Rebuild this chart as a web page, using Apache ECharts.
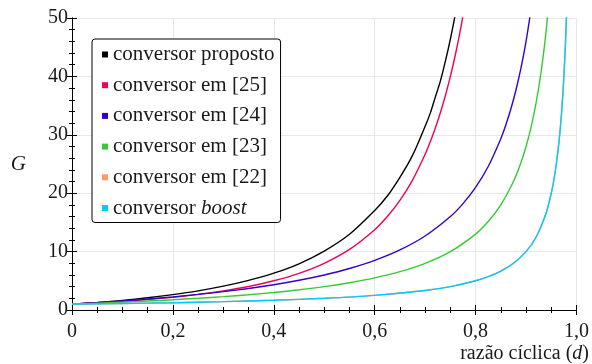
<!DOCTYPE html>
<html><head><meta charset="utf-8">
<script src="https://cdn.jsdelivr.net/npm/echarts@6/dist/echarts.min.js"></script>
<style>html,body{margin:0;padding:0;background:#fff}#c{width:592px;height:364px}</style>
</head><body><div id="c"></div>
<script>
const seriesNames = ['conversor proposto','conversor em [25]','conversor em [24]','conversor em [23]','conversor em [22]','conversor boost'];
const xTicks = [0, 0.2, 0.4, 0.6, 0.8, 1.0];
const yTicks = [0, 10, 20, 30, 40, 50];

const propostoD = [0,0.05,0.1,0.15,0.2,0.25,0.3,0.35,0.4,0.45,0.5,0.55,0.6,0.625,0.65,0.675,0.7,0.71,0.72,0.73,0.74,0.75,0.76,0.77];
const propostoG = [1,1.29,1.64,2.09,2.63,3.28,4.08,5.07,6.3,7.91,10.08,12.96,17.05,19.52,22.72,26.48,31.47,33.67,36.41,39.14,42.56,46.4,50.75,55.7];

const ref25D = [0,0.05,0.1,0.15,0.2,0.25,0.3,0.35,0.4,0.45,0.5,0.55,0.6,0.625,0.65,0.675,0.7,0.71,0.72,0.73,0.74,0.75,0.76,0.77,0.78];
const ref25G = [1,1.22,1.48,1.8,2.19,2.67,3.27,4.02,5,6.28,8,10.37,13.75,16,18.78,22.25,26.67,28.78,31.12,33.74,36.69,40,43.75,48,52.9];

const ref24D = [0,0.05,0.1,0.15,0.2,0.25,0.3,0.35,0.4,0.45,0.5,0.55,0.6,0.65,0.7,0.75,0.775,0.8,0.825,0.85,0.86,0.87,0.88,0.89,0.9,0.91];
const ref24G = [1,1.26,1.56,1.88,2.25,2.67,3.14,3.69,4.33,5.09,6,7.11,8.5,10.29,12.67,16,18.22,21,24.57,29.33,31.71,34.46,37.67,41.45,46,51.56];

const ref23D = [0,0.05,0.1,0.15,0.2,0.25,0.3,0.35,0.4,0.45,0.5,0.55,0.6,0.65,0.7,0.75,0.8,0.825,0.85,0.875,0.89,0.9,0.91,0.92,0.93,0.94,0.95];
const ref23G = [1,1.16,1.33,1.53,1.75,2,2.29,2.62,3,3.46,4,4.67,5.5,6.57,8,10,13,15.14,18,22,25.27,28,31.33,35.5,40.86,48,58];

const ref22D = [0,0.1,0.2,0.3,0.4,0.5,0.6,0.7,0.75,0.8,0.825,0.85,0.875,0.9,0.92,0.94,0.95,0.955,0.96,0.965,0.97,0.975,0.98,0.985];
const ref22G = [1,1.11,1.25,1.43,1.67,2,2.5,3.33,4,5,5.71,6.67,8,10,12.5,16.67,20,22.2,25,28.57,33.3,40,50,66.7];

const boostD = [0,0.1,0.2,0.3,0.4,0.5,0.6,0.7,0.75,0.8,0.825,0.85,0.875,0.9,0.92,0.94,0.95,0.955,0.96,0.965,0.97,0.975,0.98,0.985];
const boostG = [1,1.11,1.25,1.43,1.67,2,2.5,3.33,4,5,5.71,6.67,8,10,12.5,16.67,20,22.2,25,28.57,33.3,40,50,66.7];

const colors = ['#000000','#f0005a','#3300cc','#33cc33','#ff9966','#00ccff'];
const dataD = [propostoD, ref25D, ref24D, ref23D, ref22D, boostD];
const dataG = [propostoG, ref25G, ref24G, ref23G, ref22G, boostG];

const FONT = 'Liberation Serif';
const TXT = '#1a1a1a';

const chart = echarts.init(document.getElementById('c'), null, {renderer: 'canvas'});

const axisCommon = {
  type: 'value',
  axisLine: {show: true, lineStyle: {color: '#000', width: 1}},
  axisTick: {show: true, inside: true, length: 5, lineStyle: {color: '#000'}},
  minorTick: {show: true, length: 3, lineStyle: {color: '#000'}},
};

const option = {
  animation: false,
  backgroundColor: '#fff',
  textStyle: {fontFamily: FONT},
  grid: {left: 72, right: 14, top: 18, bottom: 54, containLabel: false},
  legend: {
    orient: 'vertical', left: 92, top: 39,
    backgroundColor: '#fff', borderColor: '#000', borderWidth: 1, borderRadius: 3,
    padding: [5, 6, 4, 10], itemGap: 9.7, itemWidth: 6, itemHeight: 6, itemStyle: {borderWidth: 0},
    icon: 'rect',
    data: seriesNames,
    textStyle: {fontFamily: FONT, fontSize: 21, color: TXT, lineHeight: 20,
      rich: {it: {fontFamily: FONT, fontSize: 21, fontStyle: 'italic', color: TXT, lineHeight: 20}}},
    formatter: n => n === 'conversor boost' ? 'conversor {it|boost}' : n
  },
  xAxis: [
    Object.assign({}, axisCommon, {
      min: 0, max: 1, interval: 0.2, position: 'bottom',
      minorTick: Object.assign({}, axisCommon.minorTick, {splitNumber: 4}),
      splitLine: {show: true, lineStyle: {color: '#e8e8e8', width: 1}},
      axisLabel: {fontFamily: FONT, fontSize: 20, color: TXT, margin: 12,
        formatter: v => { const t = xTicks.find(x => Math.abs(x - v) < 1e-9); return t === undefined ? '' : (t === 0 ? '0' : t.toFixed(1).replace('.', ',')); }}
    }),
    Object.assign({}, axisCommon, {
      min: 0, max: 1, interval: 0.2, position: 'top',
      minorTick: Object.assign({}, axisCommon.minorTick, {splitNumber: 4}),
      splitLine: {show: false}, axisLabel: {show: false}
    })
  ],
  yAxis: [
    Object.assign({}, axisCommon, {
      min: 0, max: 50, interval: 10, position: 'left',
      minorTick: Object.assign({}, axisCommon.minorTick, {splitNumber: 5}),
      splitLine: {show: true, lineStyle: {color: '#e8e8e8', width: 1}},
      name: 'G', nameLocation: 'middle', nameRotate: 0, nameGap: 46,
      nameTextStyle: {fontFamily: FONT, fontSize: 21, fontStyle: 'italic', color: TXT},
      axisLabel: {fontFamily: FONT, fontSize: 20, color: TXT, margin: 4,
        formatter: v => yTicks.includes(v) ? String(v) : ''}
    }),
    Object.assign({}, axisCommon, {
      min: 0, max: 50, interval: 10, position: 'right',
      minorTick: Object.assign({}, axisCommon.minorTick, {splitNumber: 5}),
      splitLine: {show: false}, axisLabel: {show: false}
    })
  ],
  graphic: [{
    type: 'text', right: 3, top: 344,
    style: {
      text: 'razão cíclica ({it|d})',
      fontFamily: FONT, fontSize: 20, fill: TXT,
      rich: {it: {fontFamily: FONT, fontSize: 20, fontStyle: 'italic', fill: TXT}}
    }
  }],
  series: seriesNames.map((n, i) => ({
    name: n, type: 'line', xAxisIndex: 0, yAxisIndex: 0,
    data: dataD[i].map((d, k) => [d, dataG[i][k]]),
    showSymbol: false, smooth: 0.3, clip: true,
    lineStyle: {color: colors[i], width: 1.4},
    itemStyle: {color: colors[i]}
  }))
};
chart.setOption(option);
</script>
</body></html>
